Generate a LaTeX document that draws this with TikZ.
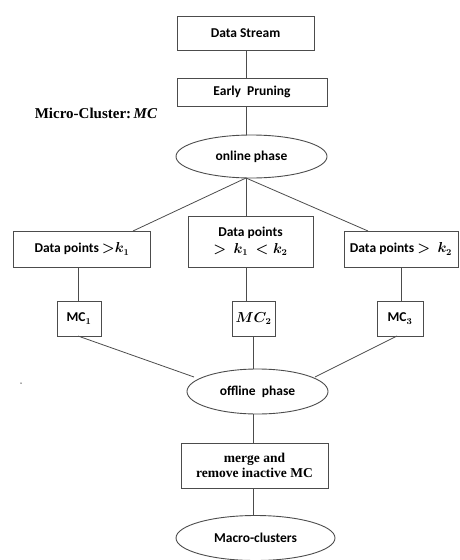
\documentclass[tikz,border=0pt]{standalone}
\usepackage{fontspec}
\setmainfont{Carlito}
\newfontfamily\tms{Liberation Serif}
\usetikzlibrary{shapes.geometric}
\definecolor{ln}{gray}{0.3}
\newcommand{\bmath}[1]{{\mathversion{bold}$#1$}}
\begin{document}
\begin{tikzpicture}[x=1pt,y=-1pt,
  box/.style={draw=ln,line width=0.9pt,rectangle,inner sep=0pt,align=center,font=\fontsize{13.5}{15}\selectfont\bfseries},
  ell/.style={draw=ln,line width=0.9pt,ellipse,inner sep=0pt,align=center,font=\fontsize{13.5}{15}\selectfont\bfseries},
  con/.style={draw=ln,line width=0.8pt}]
\useasboundingbox (0,0) rectangle (459,560);
\node[box,minimum width=137pt,minimum height=34pt] (ds) at (245.5,33) {Data Stream};
\node[box,minimum width=150pt,minimum height=28pt] (ep) at (252,92) {Early~ Pruning};
\node[font=\tms\fontsize{15}{17}\selectfont\bfseries] (mct) at (96,113) {Micro-Cluster:\,\textit{MC}};
\node[ell,minimum width=151pt,minimum height=43pt] (on) at (251.5,156.5) {online phase};
\node[box,minimum width=137pt,minimum height=36pt] (b1) at (82,249) {Data points \bmath{>}\bmath{k_1}};
\node[box,minimum width=125pt,minimum height=51pt,font=\fontsize{13.5}{17}\selectfont\bfseries] (b2) at (250.5,241.5) {Data points\\ \bmath{>\,k_1\,<k_2}};
\node[box,minimum width=114pt,minimum height=36pt] (b3) at (401,249) {Data points \bmath{>\,k_2}};
\node[box,minimum width=44pt,minimum height=35pt] (m1) at (79,318.5) {MC\bmath{_1}};
\node[box,minimum width=43pt,minimum height=35pt] (m2) at (253.5,318.5) {\bmath{MC_2}};
\node[box,minimum width=46pt,minimum height=35pt] (m3) at (400,318.5) {MC\bmath{_3}};
\node[ell,minimum width=141pt,minimum height=45pt] (off) at (257.5,391.5) {offline~ phase};
\node[box,minimum width=147pt,minimum height=45pt,font=\tms\fontsize{13.5}{15.5}\selectfont\bfseries] (mg) at (254.5,465.5) {merge and\\remove inactive MC};
\node[ell,minimum width=159pt,minimum height=45pt] (mac) at (255.5,538) {Macro-clusters};
\node[circle,fill=ln,inner sep=0pt,minimum size=1.5pt] (dot) at (21,383) {};
\coordinate (onb) at (246,178);
\coordinate (b1t) at (133,231);
\coordinate (b3t) at (368,231);
\coordinate (m1b) at (78,336);
\coordinate (m3b) at (397,336);
\coordinate (offl) at (194,377);
\coordinate (offr) at (315,377);
\draw[con] (ds.south -| onb) -- (ep.north -| onb);
\draw[con] (ep.south -| onb) -- (on.north -| onb);
\draw[con] (onb) -- (b1t);
\draw[con] (onb) -- (b2.north -| onb);
\draw[con] (onb) -- (b3t);
\draw[con] (m1.north -| m1b) -- (b1.south -| m1b);
\draw[con] (m2.north -| onb) -- (b2.south -| onb);
\draw[con] (m3.north -| 401,336) -- (b3.south -| 401,336);
\draw[con] (m1b) -- (offl);
\draw[con] (m3b) -- (offr);
\draw[con] (m2.south) -- (off.north -| m2.south);
\draw[con] (off.south -| m2.south) -- (mg.north -| m2.south);
\draw[con] (mg.south -| m2.south) -- (mac.north -| m2.south);
\end{tikzpicture}
\end{document}
